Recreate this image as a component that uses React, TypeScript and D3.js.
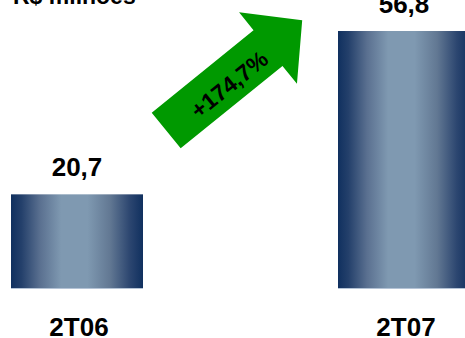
import React from "react";
import * as d3 from "d3";

const categories = ["2T06", "2T07"];
const values = [20.7, 56.8];
const valueLabels = ["20,7", "56,8"];
const growthLabel = "+174,7%";
const unitLabel = "R$ milhões";

const W = 465;
const H = 338;

export default function App() {
  const x = d3
    .scaleBand<string>()
    .domain(categories)
    .range([11, 470])
    .paddingInner(195 / 327)
    .paddingOuter(0);
  const y = d3.scaleLinear().domain([0, 56.8]).range([288, 31]);

  // arrow geometry in its own rotated frame
  const arrow = { cx: 166.2, cy: 130.5, angle: -39, shaftLen: 131, shaftHalf: 23, headHalf: 46, tip: 175 };
  const arrowPts: [number, number][] = [
    [0, -arrow.shaftHalf],
    [arrow.shaftLen, -arrow.shaftHalf],
    [arrow.shaftLen, -arrow.headHalf],
    [arrow.tip, 0],
    [arrow.shaftLen, arrow.headHalf],
    [arrow.shaftLen, arrow.shaftHalf],
    [0, arrow.shaftHalf],
  ];
  const line = d3.line();

  const font = "'Liberation Sans', Arial, Helvetica, sans-serif";

  return (
    <svg
      width={W}
      height={H}
      viewBox={`0 0 ${W} ${H}`}
      style={{ position: "absolute", left: 0, top: 0, background: "#fff", overflow: "hidden" }}
      fontFamily={font}
    >
      <defs>
        <linearGradient id="barGrad" x1="0" y1="0" x2="1" y2="0">
          <stop offset="0%" stopColor="#10305f" />
          <stop offset="8%" stopColor="#24406b" />
          <stop offset="22%" stopColor="#5a7090" />
          <stop offset="38%" stopColor="#7f99b1" />
          <stop offset="58%" stopColor="#7f99b1" />
          <stop offset="75%" stopColor="#627893" />
          <stop offset="90%" stopColor="#2c4670" />
          <stop offset="100%" stopColor="#10305f" />
        </linearGradient>
      </defs>

      <text x={13} y={4} fontSize={23} fontWeight="bold" fill="#000">
        {unitLabel}
      </text>

      {categories.map((c, i) => {
        const bx = x(c) as number;
        const bw = x.bandwidth();
        const top = y(values[i]);
        const base = y(0);
        return (
          <g key={c}>
            <rect x={bx} y={top} width={bw} height={base - top} fill="url(#barGrad)" />
            <line x1={bx} x2={bx + bw} y1={base + 0.5} y2={base + 0.5} stroke="#b4c3d6" strokeWidth={1} />
            <text
              x={bx + bw / 2}
              y={top - 18}
              textAnchor="middle"
              fontSize={26}
              fontWeight="bold"
              fill="#000"
            >
              {valueLabels[i]}
            </text>
            <text
              x={bx + bw / 2 + 2}
              y={336}
              textAnchor="middle"
              fontSize={26}
              fontWeight="bold"
              fill="#000"
            >
              {c}
            </text>
          </g>
        );
      })}

      <g transform={`translate(${arrow.cx},${arrow.cy}) rotate(${arrow.angle})`}>
        <path d={(line(arrowPts) as string) + "Z"} fill="#009900" />
        <text x={78} y={12} textAnchor="middle" fontSize={23} fontWeight="bold" fill="#000">
          {growthLabel}
        </text>
      </g>
    </svg>
  );
}
